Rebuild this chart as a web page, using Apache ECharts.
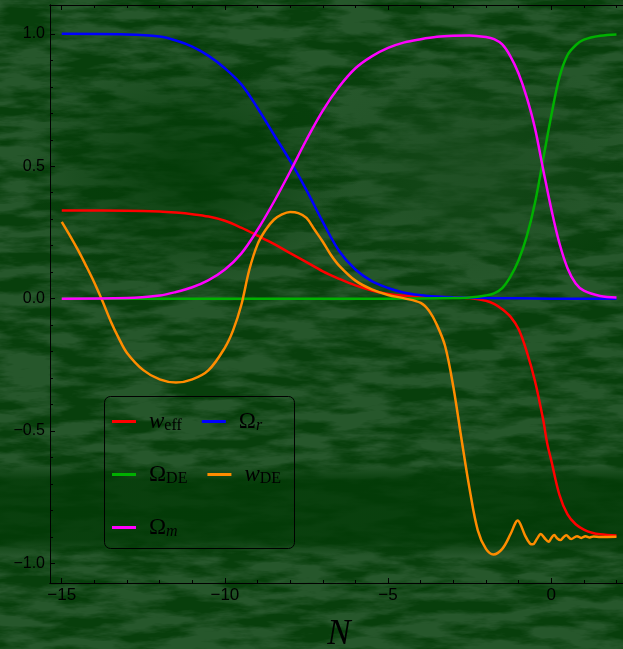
<!DOCTYPE html>
<html>
<head>
<meta charset="utf-8">
<script src="https://cdn.jsdelivr.net/npm/echarts@6/dist/echarts.min.js"></script>
<style>
  html, body { margin: 0; padding: 0; }
  #wrap { position: relative; width: 623px; height: 649px; overflow: hidden; background: #083f0c; }
  #bg { position: absolute; left: 0; top: 0; width: 623px; height: 649px; }
  #chart { position: absolute; left: 0; top: 0; width: 623px; height: 649px; }
</style>
</head>
<body>
<div id="wrap">
  <div id="bg"></div>
  <div id="chart"></div>
</div>
<script>
// e-folds N and the curves
const nWeff = [-15, -13, -12, -11.5, -11, -10.5, -10, -9.5, -9, -8.5, -8, -7.5, -7, -6.5, -6, -5.5, -5, -4.5, -4, -3, -2.5, -2, -1.75, -1.5, -1.25, -1, -0.75, -0.5, -0.25, -0.125, 0, 0.25, 0.5, 0.75, 1, 1.25, 1.5, 2];
const wEff = [0.333, 0.332, 0.329, 0.325, 0.319, 0.31, 0.294, 0.268, 0.238, 0.207, 0.172, 0.138, 0.103, 0.075, 0.05, 0.031, 0.018, 0.011, 0.008, 0.005, 0.002, -0.008, -0.02, -0.04, -0.068, -0.115, -0.2, -0.31, -0.455, -0.545, -0.61, -0.74, -0.815, -0.852, -0.872, -0.884, -0.89, -0.895];

const nOmegaR = [-15, -13, -12, -11.5, -11, -10.5, -10, -9.5, -9, -8.5, -8, -7.5, -7, -6.5, -6, -5.5, -5, -4.5, -4, -3.5, -3, -2, -1, 0, 2];
const omegaR = [1.0, 0.998, 0.99, 0.975, 0.952, 0.917, 0.87, 0.81, 0.72, 0.62, 0.52, 0.41, 0.29, 0.18, 0.11, 0.066, 0.04, 0.022, 0.013, 0.008, 0.005, 0.002, 0.001, 0.0, 0.0];

const nOmegaDE = [-15, -5, -3, -2.5, -2, -1.75, -1.5, -1.25, -1, -0.75, -0.5, -0.25, 0, 0.25, 0.5, 0.75, 1, 1.5, 2];
const omegaDE = [0.0, 0.0, 0.002, 0.004, 0.012, 0.02, 0.04, 0.083, 0.145, 0.235, 0.36, 0.525, 0.69, 0.835, 0.92, 0.957, 0.978, 0.993, 0.998];

const nWDE = [-15, -14.75, -14.5, -14.25, -14, -13.75, -13.5, -13.25, -13, -12.5, -12, -11.5, -11, -10.5, -10, -9.75, -9.5, -9.25, -9, -8.75, -8.5, -8.25, -8, -7.75, -7.5, -7.25, -7, -6.75, -6.5, -6, -5.5, -5, -4.5, -4, -3.75, -3.5, -3.25, -3, -2.75, -2.5, -2.25, -2, -1.77, -1.5, -1.25, -1.1, -1.03, -0.95, -0.8, -0.65, -0.56, -0.45, -0.32, -0.2, -0.08, 0, 0.09, 0.18, 0.28, 0.37, 0.46, 0.61, 0.79, 0.92, 1.05, 1.18, 1.3, 1.5, 2];
const wDE = [0.29, 0.238, 0.183, 0.123, 0.06, -0.01, -0.085, -0.15, -0.205, -0.27, -0.305, -0.317, -0.305, -0.27, -0.185, -0.12, -0.025, 0.11, 0.205, 0.26, 0.298, 0.318, 0.327, 0.323, 0.305, 0.26, 0.215, 0.165, 0.125, 0.068, 0.035, 0.014, 0.001, -0.016, -0.045, -0.1, -0.18, -0.333, -0.53, -0.72, -0.875, -0.945, -0.966, -0.945, -0.89, -0.848, -0.838, -0.85, -0.895, -0.925, -0.928, -0.91, -0.889, -0.905, -0.918, -0.905, -0.893, -0.905, -0.912, -0.902, -0.894, -0.908, -0.897, -0.904, -0.897, -0.902, -0.898, -0.9, -0.899];

const nOmegaM = [-15, -13, -12, -11.5, -11, -10.5, -10, -9.5, -9, -8.5, -8, -7.5, -7, -6.5, -6, -5.5, -5, -4.5, -4, -3.5, -3, -2.5, -2, -1.75, -1.5, -1.25, -1, -0.75, -0.5, -0.25, 0, 0.25, 0.5, 0.75, 1, 1.5, 2];
const omegaM = [0.0, 0.002, 0.012, 0.025, 0.043, 0.07, 0.11, 0.17, 0.26, 0.365, 0.48, 0.6, 0.71, 0.8, 0.87, 0.915, 0.947, 0.968, 0.98, 0.989, 0.993, 0.994, 0.988, 0.98, 0.96, 0.915, 0.85, 0.76, 0.645, 0.49, 0.34, 0.21, 0.115, 0.057, 0.03, 0.01, 0.004];

const xMajor = [-15, -10, -5, 0];
const xMinor = [-14, -13, -12, -11, -9, -8, -7, -6, -4, -3, -2, -1, 1, 2];
const yMajor = [-1, -0.5, 0, 0.5, 1];
const yMinor = [-0.9, -0.8, -0.7, -0.6, -0.4, -0.3, -0.2, -0.1, 0.1, 0.2, 0.3, 0.4, 0.6, 0.7, 0.8, 0.9];

const legendRows = [['weff', 'Or'], ['ODE', 'wDE'], ['Om']];
const legendText = {
  weff: '{it|w}{sub|eff}',
  Or: '{rm|Ω}{subit|r}',
  ODE: '{rm|Ω}{sub|DE}',
  wDE: '{it|w}{sub|DE}',
  Om: '{rm|Ω}{subit|m}'
};

// mottled green backdrop
const noise = "<svg xmlns='http://www.w3.org/2000/svg' width='623' height='649'>" +
  "<filter id='n' color-interpolation-filters='sRGB'><feTurbulence type='fractalNoise' baseFrequency='0.018 0.075' numOctaves='5' seed='11'/>" +
  "<feColorMatrix values='0 0 0 0 0.15  0 0 0 0 0.34  0 0 0 0 0.17  0 0 0 3.4 -1.15'/></filter>" +
  "<rect width='623' height='649' filter='url(#n)'/></svg>";
document.getElementById('bg').style.background =
  'radial-gradient(ellipse 170px 120px at 190px 170px, rgba(2,58,6,0.85), rgba(2,58,6,0) 100%),' +
  'linear-gradient(to bottom, rgba(2,58,6,0) 0px, rgba(2,58,6,0) 465px, rgba(2,58,6,0.8) 480px, rgba(2,58,6,0.8) 540px, rgba(2,58,6,0) 556px),' +
  'radial-gradient(ellipse 170px 120px at 470px 170px, rgba(28,76,32,0.7), rgba(28,76,32,0) 100%),' +
  'url("data:image/svg+xml;charset=utf-8,' + encodeURIComponent(noise) + '")';

const pairs = (n, v) => n.map((x, i) => [x, v[i]]);
const minus = s => String(s).replace('-', '\u2212');

const tickAxis = (pos, vals, len) => ({
  type: 'value',
  position: pos,
  min: pos === 'bottom' || pos === 'top' ? -15.36 : -1.074,
  max: pos === 'bottom' || pos === 'top' ? 2.2 : 1.109,
  axisLine: { show: true, onZero: false, lineStyle: { color: '#000', width: 1 } },
  axisTick: { show: true, inside: true, length: len, customValues: vals, lineStyle: { color: '#000', width: 1 } },
  axisLabel: { show: false },
  splitLine: { show: false }
});

const chart = echarts.init(document.getElementById('chart'));
const xBottom = tickAxis('bottom', xMajor, 5);
xBottom.axisLabel = {
  show: true, customValues: xMajor, margin: 4, color: '#000',
  fontFamily: 'Liberation Sans', fontSize: 17, formatter: v => minus(v)
};
xBottom.name = 'N';
xBottom.nameLocation = 'middle';
xBottom.nameGap = 34;
xBottom.nameTextStyle = { fontFamily: 'Liberation Serif', fontStyle: 'italic', fontSize: 35, color: '#000', padding: [0, 0, 0, 5] };
const yLeft = tickAxis('left', yMajor, 5);
yLeft.axisLabel = {
  show: true, customValues: yMajor, margin: 5, color: '#000',
  fontFamily: 'Liberation Sans', fontSize: 16, formatter: v => minus(v.toFixed(1))
};

const line = (name, color, n, v) => ({
  name: name, type: 'line', data: pairs(n, v), showSymbol: false, smooth: 0.35,
  lineStyle: { color: color, width: 2.5 }, itemStyle: { color: color }
});

// one legend per row, inside a rounded frame
const legends = legendRows.map((row, i) => ({
  left: 112, top: 410 + 53 * i,
  orient: 'horizontal',
  data: row,
  icon: 'rect', itemWidth: 24, itemHeight: 3, itemGap: 20,
  padding: 0,
  formatter: name => legendText[name],
  textStyle: {
    color: '#000', padding: [0, 0, 0, 8],
    rich: {
      it: { fontFamily: 'Liberation Serif', fontStyle: 'italic', fontSize: 23, lineHeight: 33, verticalAlign: 'middle', color: '#000' },
      rm: { fontFamily: 'Liberation Serif', fontSize: 23, lineHeight: 33, verticalAlign: 'middle', color: '#000' },
      sub: { fontFamily: 'Liberation Serif', fontSize: 16, lineHeight: 16, verticalAlign: 'bottom', padding: [0, 0, 4, 0], color: '#000' },
      subit: { fontFamily: 'Liberation Serif', fontStyle: 'italic', fontSize: 16, lineHeight: 16, verticalAlign: 'bottom', padding: [0, 0, 4, 0], color: '#000' }
    }
  }
}));

chart.setOption({
  animation: false,
  backgroundColor: 'transparent',
  grid: { left: 50, right: 0, top: 5, bottom: 66, outerBoundsMode: 'none', containLabel: false },
  xAxis: [xBottom, tickAxis('bottom', xMinor, 3), tickAxis('top', xMajor, 5), tickAxis('top', xMinor, 3)],
  yAxis: [yLeft, tickAxis('left', yMinor, 3)],
  legend: legends,
  graphic: [{
    type: 'rect', silent: true, z: 1,
    shape: { x: 104.5, y: 396.5, width: 190, height: 152, r: 6 },
    style: { fill: 'none', stroke: '#000', lineWidth: 1 }
  }],
  series: [
    line('weff', '#ff0000', nWeff, wEff),
    line('Or', '#0000ff', nOmegaR, omegaR),
    line('ODE', '#00b000', nOmegaDE, omegaDE),
    line('wDE', '#ff8c00', nWDE, wDE),
    line('Om', '#ff00ff', nOmegaM, omegaM)
  ]
});
</script>
</body>
</html>
